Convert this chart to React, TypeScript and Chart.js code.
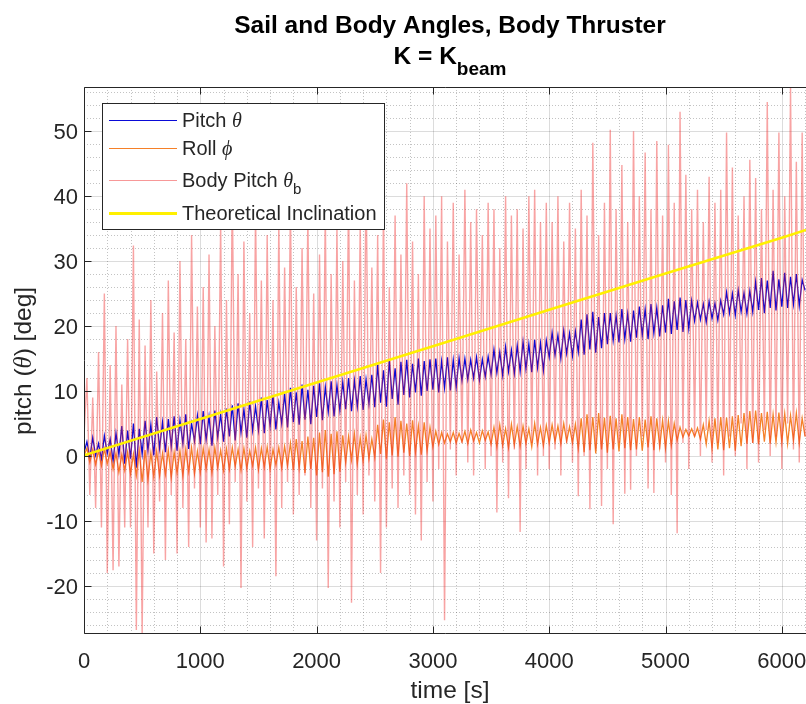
import React, { useEffect, useRef } from 'react';
import { Chart, registerables } from 'chart.js';

Chart.register(...registerables);

// ---------- data ----------
const SAMPLE_STEP_S = 25; // sampling interval of the three measured series [s]
const X_MAX = 6208;
const Y_MIN = -27.4;
const Y_MAX = 56.8;
const X_MAJOR_TICKS = [0, 1000, 2000, 3000, 4000, 5000, 6000];
const Y_MAJOR_TICKS = [-20, -10, 0, 10, 20, 30, 40, 50];
const X_MINOR_STEP = 200;
const Y_MINOR_STEP = 2;

const pitch = [
  0.5, 2.2, -0.3, 2.8, 0.1, 1.9, -0.5, 3.1, 0.4, 2.6,
  -0.8, 3.5, 0.2, 4.6, -1.2, 3.9, -0.4, 5.0, -1.8, 4.2,
  0.3, 5.4, 0.9, 4.8, 0.1, 6.0, 1.2, 5.2, 0.6, 5.7,
  1.5, 6.1, 0.8, 5.5, 1.9, 6.4, 1.1, 5.0, 2.3, 6.2,
  1.8, 6.9, 2.5, 6.1, 1.6, 7.0, 2.9, 6.4, 2.2, 7.3,
  3.0, 7.8, 2.4, 8.1, 3.6, 7.2, 2.8, 8.4, 3.9, 7.6,
  4.0, 9.0, 3.5, 8.6, 4.6, 9.4, 4.1, 8.2, 5.0, 9.6,
  4.4, 10.5, 5.2, 9.8, 4.8, 11.0, 5.6, 10.2, 4.9, 10.8,
  6.0, 11.2, 5.5, 10.6, 6.8, 11.5, 6.1, 10.9, 7.0, 11.4,
  7.2, 12.0, 6.9, 11.6, 7.6, 12.3, 7.1, 11.8, 8.0, 12.5,
  7.5, 14.0, 8.2, 13.2, 7.6, 14.7, 8.8, 13.5, 7.9, 14.5,
  9.4, 14.8, 9.0, 14.2, 9.8, 15.0, 9.3, 14.6, 10.0, 14.9,
  10.2, 15.0, 9.8, 14.6, 10.5, 15.2, 10.1, 14.8, 10.6, 15.1,
  11.6, 15.0, 11.8, 14.8, 12.0, 15.2, 11.7, 14.9, 12.2, 15.3,
  12.5, 16.4, 12.8, 16.0, 12.4, 16.8, 13.0, 16.3, 12.7, 17.0,
  13.0, 17.6, 13.4, 17.2, 12.9, 17.9, 13.6, 17.4, 13.2, 17.8,
  15.2, 19.0, 15.5, 18.6, 15.0, 19.3, 15.8, 18.9, 15.4, 19.2,
  16.0, 21.0, 15.6, 21.8, 16.4, 22.2, 15.9, 21.4, 16.6, 22.0,
  17.2, 22.0, 17.8, 21.6, 17.5, 22.6, 18.0, 21.9, 17.6, 22.4,
  18.2, 23.0, 18.6, 22.6, 18.0, 23.4, 18.9, 22.8, 18.4, 23.2,
  19.0, 24.2, 18.8, 23.8, 19.4, 24.4, 19.1, 24.0, 19.6, 23.9,
  20.8, 23.6, 21.0, 23.4, 20.6, 23.8, 21.2, 23.5, 20.9, 23.9,
  21.8, 25.2, 22.0, 25.0, 21.7, 25.5, 22.2, 25.1, 21.9, 25.4,
  22.2, 26.8, 22.5, 27.4, 22.0, 27.0, 22.8, 28.5, 22.4, 27.2,
  23.0, 28.2, 22.8, 27.6, 23.4, 28.0, 23.1, 27.1, 25.5,
];

const roll = [
  0.0, 1.2, -1.0, 1.0, -1.3, 0.8, -1.5, 1.1, -1.2, 0.6,
  -2.0, 0.4, -2.5, 0.2, -2.2, 0.6, -2.7, 0.3, -3.0, 0.8,
  -4.0, 0.9, -3.6, 0.5, -3.2, 0.7, -3.0, 0.4, -2.8, 0.9,
  -3.3, 0.6, -2.6, 0.8, -3.0, 1.0, -2.4, 1.3, -2.7, 0.7,
  -2.5, 1.2, -2.0, 1.0, -2.6, 1.3, -1.8, 0.9, -2.2, 1.1,
  -2.0, 1.3, -1.6, 1.0, -2.2, 1.2, -1.9, 0.8, -1.5, 1.3,
  -2.1, 1.2, -1.7, 1.4, -2.0, 1.0, -1.4, 1.3, -1.8, 1.5,
  -1.5, 2.0, -2.2, 2.6, -1.8, 2.3, -2.6, 3.0, -2.0, 2.8,
  -3.0, 3.6, -2.5, 4.0, -3.2, 3.4, -2.8, 3.8, -2.4, 3.2,
  -1.0, 3.0, -0.6, 3.4, -1.2, 2.8, -0.8, 3.2, -0.4, 2.6,
  -0.2, 4.8, 0.3, 5.6, -0.4, 5.2, 0.1, 6.0, -0.1, 5.4,
  0.5, 5.0, 0.0, 5.5, 0.6, 4.6, 0.2, 5.2, 0.8, 4.4,
  1.4, 3.8, 1.8, 3.6, 2.0, 3.4, 2.2, 3.6, 2.0, 3.5,
  2.2, 3.8, 1.9, 4.0, 2.3, 3.6, 2.0, 3.9, 2.4, 3.7,
  1.8, 4.4, 1.4, 4.8, 1.6, 4.2, 1.3, 4.9, 1.7, 4.5,
  1.5, 4.6, 1.9, 4.2, 1.4, 5.0, 1.8, 4.4, 1.6, 4.7,
  2.0, 4.8, 2.2, 4.6, 1.9, 5.0, 2.3, 4.5, 2.0, 4.9,
  1.2, 5.8, 0.6, 6.4, 0.9, 6.0, 0.4, 6.6, 1.0, 5.9,
  0.5, 6.2, 1.0, 5.8, 0.7, 6.4, 1.2, 6.0, 0.9, 5.7,
  1.0, 6.0, 0.8, 5.6, 1.3, 6.1, 0.9, 5.8, 1.4, 5.5,
  1.2, 5.4, 1.6, 5.0, 2.4, 4.4, 2.9, 4.1, 3.1, 4.2,
  3.0, 4.3, 2.6, 4.8, 1.8, 5.4, 1.2, 5.8, 1.0, 6.0,
  0.9, 5.9, 1.2, 6.1, 0.8, 6.3, 1.5, 6.6, 1.9, 6.9,
  2.0, 7.0, 1.8, 6.6, 2.2, 6.8, 1.9, 6.4, 2.1, 6.7,
  2.2, 6.5, 1.9, 6.2, 2.4, 6.6, 2.0, 5.8, 3.0,
];

const bodyPitch = [
  3, 12, -6, 9, -8, 16, -11, 25, -18, 14,
  -17.6, 20, -17, 11, -11, 18, -11, 32.4, -26.8, 21,
  -27.4, 17, -11, 24, -15, 13, -7, 22, -16, 27,
  -6, 19, -15, 30, -8, 18, -14, 34, -5, 23,
  -11, 26, -13.3, 31, -12.7, 20, -6, 36, -17, 24,
  -10.5, 40.8, -4, 28, -20.3, 33, -7, 22, -14, 38,
  -5, 27, -12.7, 34, -6, 24, -18.5, 36, -8, 29,
  -4, 39, -9, 26, -6, 32, -3, 37, -8, 25,
  -13, 31, -5, 38, -20.3, 28, -7, 35, -11, 30,
  -4, 41, -22.6, 27, -6, 36, -9, 44, -3, 29,
  -7, 34, -18, 39, -11, 26, -5, 37, -8, 31,
  -3, 42, -6, 33, -9, 28, -13, 40, -4, 35,
  -7, 37, -2, 40, -25.3, 33, 1, 39, -3, 31,
  2, 41, -1, 36, -3, 38, 3, 34, -2, 39,
  0, 38, -8.7, 32, -1, 40, -6.5, 37, 1, 38,
  -11.7, 35, -2, 40, 2, 41, -3, 36, 0, 39,
  -2, 36, 1, 40, -3, 33, 2, 39, -1, 35,
  -6.2, 41, 0, 37, -8.2, 48.2, 1, 34, -7.7, 39,
  -2, 50.2, -10.5, 38, 2, 44.8, -5.8, 36, -5.2, 50,
  0, 40, 3, 46.7, -5, 38, -5.7, 48.5, 1, 37,
  -1, 47.9, -6, 39, -11.9, 53, 2, 43.3, -2, 38,
  3, 41, 0, 36, 4, 43, -1, 39, 2, 41,
  -3, 49.8, 3, 44.4, 0, 37, 5, 40, -2, 45.6,
  2, 42.8, -1, 38, 4, 54.5, 0, 41, 3, 49.8,
  -2, 40, 5, 56.8, 1, 45.3, -1, 49.8, 3,
];

const theoryTime = [0, 1000, 2000, 3000, 4000, 5000, 6000, 6208];
const theoryValues = [0.1, 5.7, 11.3, 16.9, 22.5, 28.1, 33.6, 34.8];

// ---------- styling ----------
const SANS = '"Liberation Sans", Arial, Helvetica, sans-serif';
const SERIF = '"Liberation Serif", "DejaVu Serif", serif';
const AXIS_COLOR = '#262626';
const COLOR_PITCH = 'rgb(10,10,215)';
const COLOR_ROLL = 'rgb(245,128,40)';
const COLOR_BODY = 'rgba(240,50,50,0.45)';
const COLOR_THEORY = 'rgb(255,240,0)';

type Run = { text: string; font: string; dy?: number };

function runsWidth(ctx: CanvasRenderingContext2D, runs: Run[]) {
  let w = 0;
  for (const r of runs) {
    ctx.font = r.font;
    w += ctx.measureText(r.text).width;
  }
  return w;
}

function drawRuns(
  ctx: CanvasRenderingContext2D,
  x: number,
  baseline: number,
  runs: Run[],
  align: 'left' | 'center' = 'left'
) {
  let cx = align === 'center' ? x - runsWidth(ctx, runs) / 2 : x;
  ctx.textAlign = 'left';
  ctx.textBaseline = 'alphabetic';
  for (const r of runs) {
    ctx.font = r.font;
    ctx.fillText(r.text, cx, baseline + (r.dy || 0));
    cx += ctx.measureText(r.text).width;
  }
}

const legendEntries: { runs: Run[]; color: string; width: number }[] = [
  {
    runs: [
      { text: 'Pitch ', font: `20px ${SANS}` },
      { text: 'θ', font: `italic 20px ${SERIF}` },
    ],
    color: COLOR_PITCH,
    width: 1.2,
  },
  {
    runs: [
      { text: 'Roll ', font: `20px ${SANS}` },
      { text: 'ϕ', font: `italic 20px ${SERIF}` },
    ],
    color: COLOR_ROLL,
    width: 1.2,
  },
  {
    runs: [
      { text: 'Body Pitch ', font: `20px ${SANS}` },
      { text: 'θ', font: `italic 20px ${SERIF}` },
      { text: 'b', font: `15px ${SANS}`, dy: 7 },
    ],
    color: 'rgba(240,50,50,0.5)',
    width: 1.2,
  },
  {
    runs: [{ text: 'Theoretical Inclination', font: `20px ${SANS}` }],
    color: COLOR_THEORY,
    width: 3,
  },
];
const LEGEND_ROW_Y = [120, 148, 180, 213];

const matlabPlugin = {
  id: 'matlabAxes',
  beforeDraw(chart: any) {
    const ctx = chart.ctx as CanvasRenderingContext2D;
    ctx.save();
    ctx.fillStyle = '#ffffff';
    ctx.fillRect(0, 0, chart.width, chart.height);
    ctx.restore();
  },
  beforeDatasetsDraw(chart: any) {
    const ctx = chart.ctx as CanvasRenderingContext2D;
    const { left, right, top, bottom } = chart.chartArea;
    const xs = chart.scales.x;
    const ys = chart.scales.y;
    ctx.save();
    // minor grid (dotted)
    ctx.strokeStyle = 'rgba(38,38,38,0.28)';
    ctx.lineWidth = 1;
    ctx.setLineDash([1, 2]);
    ctx.beginPath();
    for (let v = X_MINOR_STEP; v < X_MAX; v += X_MINOR_STEP) {
      if (v % 1000 === 0) continue;
      const px = Math.round(xs.getPixelForValue(v)) + 0.5;
      ctx.moveTo(px, top);
      ctx.lineTo(px, bottom);
    }
    for (let v = -26; v < Y_MAX; v += Y_MINOR_STEP) {
      if (v % 10 === 0) continue;
      const py = Math.round(ys.getPixelForValue(v)) + 0.5;
      ctx.moveTo(left, py);
      ctx.lineTo(right, py);
    }
    ctx.stroke();
    // major grid (solid)
    ctx.setLineDash([]);
    ctx.strokeStyle = 'rgba(38,38,38,0.16)';
    ctx.beginPath();
    for (const v of X_MAJOR_TICKS) {
      if (v === 0) continue;
      const px = Math.round(xs.getPixelForValue(v)) + 0.5;
      ctx.moveTo(px, top);
      ctx.lineTo(px, bottom);
    }
    for (const v of Y_MAJOR_TICKS) {
      const py = Math.round(ys.getPixelForValue(v)) + 0.5;
      ctx.moveTo(left, py);
      ctx.lineTo(right, py);
    }
    ctx.stroke();
    ctx.restore();
  },
  afterDatasetsDraw(chart: any) {
    const ctx = chart.ctx as CanvasRenderingContext2D;
    const { left, right, top, bottom } = chart.chartArea;
    const xs = chart.scales.x;
    const ys = chart.scales.y;
    ctx.save();
    ctx.setLineDash([]);
    // axes box
    ctx.strokeStyle = AXIS_COLOR;
    ctx.lineWidth = 1;
    const L = Math.round(left) + 0.5;
    const T = Math.round(top) + 0.5;
    const B = Math.round(bottom) - 0.5;
    ctx.beginPath();
    ctx.moveTo(right, T);
    ctx.lineTo(L, T);
    ctx.lineTo(L, B);
    ctx.lineTo(right, B);
    ctx.stroke();
    // inward tick marks
    const TL = 7;
    ctx.beginPath();
    for (const v of X_MAJOR_TICKS) {
      const px = Math.round(xs.getPixelForValue(v)) + 0.5;
      ctx.moveTo(px, B);
      ctx.lineTo(px, B - TL);
      ctx.moveTo(px, T);
      ctx.lineTo(px, T + TL);
    }
    for (const v of Y_MAJOR_TICKS) {
      const py = Math.round(ys.getPixelForValue(v)) + 0.5;
      ctx.moveTo(L, py);
      ctx.lineTo(L + TL, py);
    }
    ctx.stroke();

    // tick labels
    ctx.fillStyle = AXIS_COLOR;
    ctx.font = `22px ${SANS}`;
    ctx.textBaseline = 'alphabetic';
    ctx.textAlign = 'center';
    for (const v of X_MAJOR_TICKS) {
      ctx.fillText(String(v), xs.getPixelForValue(v), 668);
    }
    ctx.textAlign = 'right';
    for (const v of Y_MAJOR_TICKS) {
      ctx.fillText(String(v), 78, ys.getPixelForValue(v) + 8);
    }

    // axis titles
    ctx.textAlign = 'center';
    ctx.font = `24.5px ${SANS}`;
    ctx.fillText('time [s]', 450, 698);
    ctx.save();
    ctx.translate(31, 361);
    ctx.rotate(-Math.PI / 2);
    drawRuns(
      ctx,
      0,
      0,
      [
        { text: 'pitch (', font: `24.5px ${SANS}` },
        { text: 'θ', font: `italic 24.5px ${SERIF}` },
        { text: ') [deg]', font: `24.5px ${SANS}` },
      ],
      'center'
    );
    ctx.restore();

    // title
    ctx.fillStyle = '#000000';
    drawRuns(ctx, 450, 33, [{ text: 'Sail and Body Angles, Body Thruster', font: `bold 24.5px ${SANS}` }], 'center');
    drawRuns(
      ctx,
      450,
      64,
      [
        { text: 'K = K', font: `bold 24.5px ${SANS}` },
        { text: 'beam', font: `bold 19px ${SANS}`, dy: 11 },
      ],
      'center'
    );

    // legend
    const bx = 102.5, by = 103.5, bw = 282, bh = 126;
    ctx.fillStyle = '#ffffff';
    ctx.fillRect(bx, by, bw, bh);
    ctx.strokeStyle = AXIS_COLOR;
    ctx.lineWidth = 1;
    ctx.strokeRect(bx, by, bw, bh);
    legendEntries.forEach((e, i) => {
      const y = LEGEND_ROW_Y[i];
      ctx.strokeStyle = e.color;
      ctx.lineWidth = e.width;
      ctx.beginPath();
      ctx.moveTo(109, y + 0.5);
      ctx.lineTo(177, y + 0.5);
      ctx.stroke();
      ctx.fillStyle = AXIS_COLOR;
      drawRuns(ctx, 182, y + 7, e.runs, 'left');
    });
    ctx.restore();
  },
};

export default function App() {
  const canvasRef = useRef<HTMLCanvasElement | null>(null);

  useEffect(() => {
    document.body.style.margin = '0';
    const canvas = canvasRef.current;
    if (!canvas) return;
    const time = pitch.map((_, i) => i * SAMPLE_STEP_S);
    const toPoints = (vals: number[]) => vals.map((v, i) => ({ x: time[i], y: v }));
    const theory = theoryValues.map((v, i) => ({ x: theoryTime[i], y: v }));

    const chart = new Chart(canvas, {
      type: 'line',
      data: {
        datasets: [
          // first dataset is drawn last (on top)
          { label: 'Theoretical Inclination', data: theory, borderColor: COLOR_THEORY, borderWidth: 2.6 },
          { label: 'Body Pitch θb', data: toPoints(bodyPitch), borderColor: COLOR_BODY, borderWidth: 1.4 },
          { label: 'Roll ϕ', data: toPoints(roll), borderColor: COLOR_ROLL, borderWidth: 1.3 },
          { label: 'Pitch θ', data: toPoints(pitch), borderColor: COLOR_PITCH, borderWidth: 1.3 },
        ],
      },
      options: {
        animation: false,
        responsive: true,
        maintainAspectRatio: false,
        devicePixelRatio: 1,
        events: [],
        layout: { padding: { left: 84, top: 87, right: 0, bottom: 70 } },
        elements: { point: { radius: 0 }, line: { tension: 0, fill: false } },
        scales: {
          x: { type: 'linear', min: 0, max: X_MAX, display: false },
          y: { type: 'linear', min: Y_MIN, max: Y_MAX, display: false },
        },
        plugins: {
          legend: { display: false },
          tooltip: { enabled: false },
          title: { display: false },
        },
      },
      plugins: [matlabPlugin],
    });
    return () => chart.destroy();
  }, []);

  return (
    <div style={{ width: 806, height: 704, position: 'relative' }}>
      <canvas ref={canvasRef} />
    </div>
  );
}
